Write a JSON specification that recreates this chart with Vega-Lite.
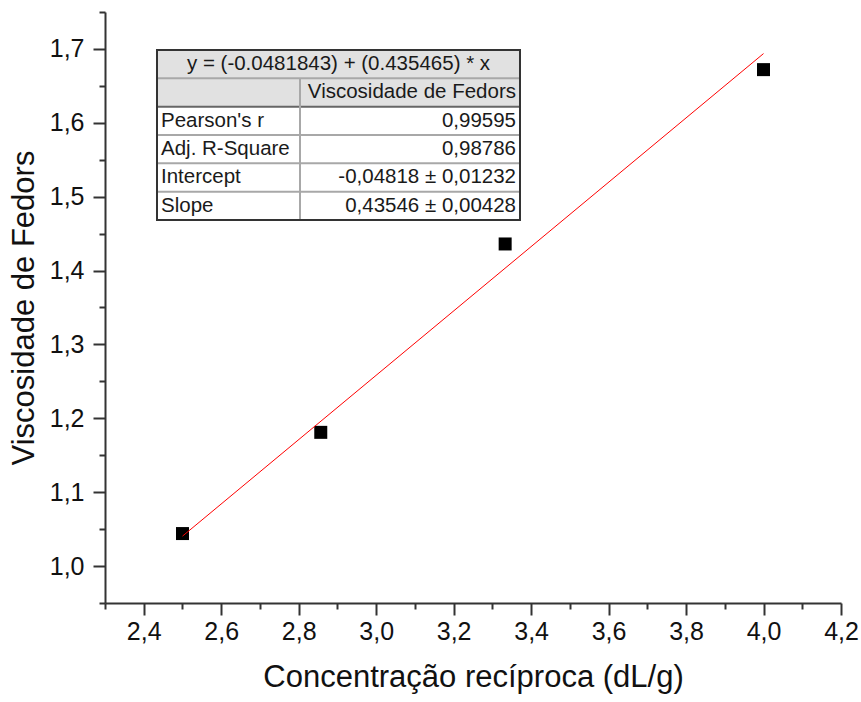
{
  "$schema": "https://vega.github.io/schema/vega-lite/v6.json",
  "width": 736,
  "height": 591,
  "autosize": "none",
  "padding": {"left": 105, "top": 12, "right": 20, "bottom": 99},
  "background": "white",
  "config": {"view": {"stroke": null}, "font": "Liberation Sans"},
  "datasets": {
    "points": [
      {"x": 2.5, "y": 1.044},
      {"x": 2.857, "y": 1.181},
      {"x": 3.333, "y": 1.436},
      {"x": 4.0, "y": 1.672}
    ],
    "fit": [
      {"x": 2.5, "y": 1.0405},
      {"x": 4.0, "y": 1.6937}
    ],
    "table": [
      {"i": 0, "col": "eq", "text": "y = (-0.0481843) + (0.435465) * x"},
      {"i": 1, "col": "value", "text": "Viscosidade de Fedors"},
      {"i": 2, "col": "label", "text": "Pearson's r"},
      {"i": 2, "col": "value", "text": "0,99595"},
      {"i": 3, "col": "label", "text": "Adj. R-Square"},
      {"i": 3, "col": "value", "text": "0,98786"},
      {"i": 4, "col": "label", "text": "Intercept"},
      {"i": 4, "col": "value", "text": "-0,04818 ± 0,01232"},
      {"i": 5, "col": "label", "text": "Slope"},
      {"i": 5, "col": "value", "text": "0,43546 ± 0,00428"}
    ]
  },
  "layer": [
    {
      "encoding": {
        "x": {
          "field": "x", "type": "quantitative",
          "scale": {"domain": [2.3, 4.2], "nice": false, "zero": false},
          "axis": {
            "title": "Concentração recíproca (dL/g)",
            "values": [2.3, 2.4, 2.5, 2.6, 2.7, 2.8, 2.9, 3.0, 3.1, 3.2, 3.3, 3.4, 3.5, 3.6, 3.7, 3.8, 3.9, 4.0, 4.1, 4.2],
            "labelExpr": "abs(datum.value*5 - round(datum.value*5)) < 0.01 ? replace(format(datum.value, '.1f'), '.', ',') : ''",
            "tickSize": {"condition": {"test": "abs(datum.value*5 - round(datum.value*5)) < 0.01", "value": 12}, "value": 6},
            "grid": false,
            "domainColor": "#333333", "domainWidth": 2,
            "tickColor": "#333333", "tickWidth": 2,
            "labelFontSize": 25, "labelColor": "#111111", "labelPadding": 4,
            "labelFlush": false, "labelOverlap": false,
            "titleFontSize": 31, "titleFontWeight": "normal", "titleColor": "#111111", "titlePadding": 18
          }
        },
        "y": {
          "field": "y", "type": "quantitative",
          "scale": {"domain": [0.95, 1.75], "nice": false, "zero": false},
          "axis": {
            "title": "Viscosidade de Fedors",
            "values": [0.95, 1.0, 1.05, 1.1, 1.15, 1.2, 1.25, 1.3, 1.35, 1.4, 1.45, 1.5, 1.55, 1.6, 1.65, 1.7, 1.75],
            "labelExpr": "abs(datum.value*10 - round(datum.value*10)) < 0.01 ? replace(format(datum.value, '.1f'), '.', ',') : ''",
            "tickSize": {"condition": {"test": "abs(datum.value*10 - round(datum.value*10)) < 0.01", "value": 12}, "value": 6},
            "grid": false,
            "domainColor": "#333333", "domainWidth": 2,
            "tickColor": "#333333", "tickWidth": 2,
            "labelFontSize": 25, "labelColor": "#111111", "labelPadding": 9,
            "labelFlush": false, "labelOverlap": false,
            "titleFontSize": 31, "titleFontWeight": "normal", "titleColor": "#111111", "titlePadding": 9
          }
        }
      },
      "layer": [
        {
          "data": {"name": "points"},
          "mark": {"type": "square", "size": 169, "color": "#000000", "opacity": 1}
        },
        {
          "data": {"name": "fit"},
          "mark": {"type": "line", "color": "#ff0000", "strokeWidth": 1}
        }
      ]
    },
    {
      "layer": [
        {
          "data": {"values": [{}]},
          "mark": {"type": "rect", "fill": "#e1e1e1"},
          "encoding": {
            "x": {"datum": 0, "type": "quantitative", "scale": {"domain": [-0.14325, 1.8843], "nice": false, "zero": false}, "axis": null},
            "x2": {"datum": 1},
            "y": {"datum": -0.5, "type": "quantitative", "scale": {"domain": [-1.8414, 19.0195], "reverse": true, "nice": false, "zero": false}, "axis": null},
            "y2": {"datum": 1.5}
          }
        },
        {
          "data": {"values": [{}]},
          "mark": {"type": "rect", "fill": "#ffffff"},
          "encoding": {
            "x": {"datum": 0, "type": "quantitative", "scale": {"domain": [-0.14325, 1.8843], "nice": false, "zero": false}, "axis": null},
            "x2": {"datum": 1},
            "y": {"datum": 1.5, "type": "quantitative", "scale": {"domain": [-1.8414, 19.0195], "reverse": true, "nice": false, "zero": false}, "axis": null},
            "y2": {"datum": 5.5}
          }
        },
        {
          "data": {"name": "table"},
          "transform": [{"filter": "datum.col == 'value'"}],
          "mark": {"type": "rule", "strokeWidth": 2, "yOffset": -14.17},
          "encoding": {
            "x": {"datum": 0, "type": "quantitative", "scale": {"domain": [-0.14325, 1.8843], "nice": false, "zero": false}, "axis": null},
            "x2": {"datum": 1},
            "y": {"field": "i", "type": "quantitative", "scale": {"domain": [-1.8414, 19.0195], "reverse": true, "nice": false, "zero": false}, "axis": null},
            "color": {"condition": {"test": "datum.i == 2", "value": "#666666"}, "value": "#a8a8a8"}
          }
        },
        {
          "data": {"values": [{}]},
          "mark": {"type": "rule", "strokeWidth": 2, "color": "#a8a8a8"},
          "encoding": {
            "x": {"datum": 0.3939, "type": "quantitative", "scale": {"domain": [-0.14325, 1.8843], "nice": false, "zero": false}, "axis": null},
            "y": {"datum": 0.5, "type": "quantitative", "scale": {"domain": [-1.8414, 19.0195], "reverse": true, "nice": false, "zero": false}, "axis": null},
            "y2": {"datum": 5.5}
          }
        },
        {
          "data": {"values": [{}]},
          "mark": {"type": "rect", "fillOpacity": 0, "stroke": "#333333", "strokeWidth": 2},
          "encoding": {
            "x": {"datum": 0, "type": "quantitative", "scale": {"domain": [-0.14325, 1.8843], "nice": false, "zero": false}, "axis": null},
            "x2": {"datum": 1},
            "y": {"datum": -0.5, "type": "quantitative", "scale": {"domain": [-1.8414, 19.0195], "reverse": true, "nice": false, "zero": false}, "axis": null},
            "y2": {"datum": 5.5}
          }
        },
        {
          "data": {"name": "table"},
          "transform": [{"filter": "datum.col == 'eq'"}],
          "mark": {"type": "text", "align": "center", "baseline": "middle", "fontSize": 20.5, "color": "#1a1a1a"},
          "encoding": {
            "x": {"datum": 0.5, "type": "quantitative", "scale": {"domain": [-0.14325, 1.8843], "nice": false, "zero": false}, "axis": null},
            "y": {"field": "i", "type": "quantitative", "scale": {"domain": [-1.8414, 19.0195], "reverse": true, "nice": false, "zero": false}, "axis": null},
            "text": {"field": "text"}
          }
        },
        {
          "data": {"name": "table"},
          "transform": [{"filter": "datum.col == 'label'"}],
          "mark": {"type": "text", "align": "left", "baseline": "middle", "fontSize": 20.5, "dx": 4, "color": "#1a1a1a"},
          "encoding": {
            "x": {"datum": 0, "type": "quantitative", "scale": {"domain": [-0.14325, 1.8843], "nice": false, "zero": false}, "axis": null},
            "y": {"field": "i", "type": "quantitative", "scale": {"domain": [-1.8414, 19.0195], "reverse": true, "nice": false, "zero": false}, "axis": null},
            "text": {"field": "text"}
          }
        },
        {
          "data": {"name": "table"},
          "transform": [{"filter": "datum.col == 'value'"}],
          "mark": {"type": "text", "align": "right", "baseline": "middle", "fontSize": 20.5, "dx": -4, "color": "#1a1a1a"},
          "encoding": {
            "x": {"datum": 1, "type": "quantitative", "scale": {"domain": [-0.14325, 1.8843], "nice": false, "zero": false}, "axis": null},
            "y": {"field": "i", "type": "quantitative", "scale": {"domain": [-1.8414, 19.0195], "reverse": true, "nice": false, "zero": false}, "axis": null},
            "text": {"field": "text"}
          }
        }
      ]
    }
  ],
  "resolve": {"scale": {"x": "independent", "y": "independent"}}
}
